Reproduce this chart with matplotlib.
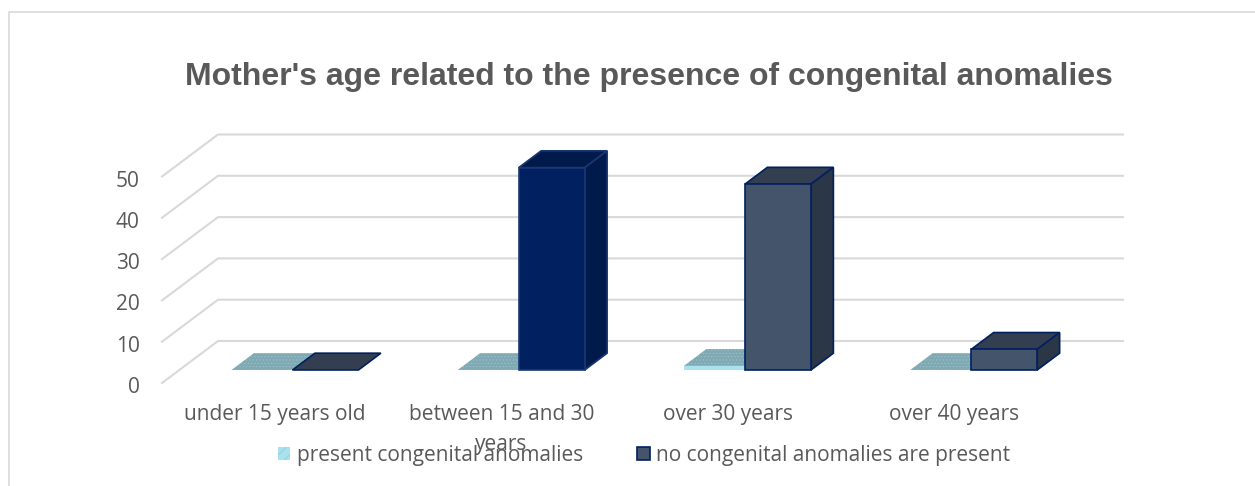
""" Mother's age chart, drawn as a fake 3D column chart """
import matplotlib
matplotlib.use('Agg')
import matplotlib.pyplot as plt
from matplotlib.patches import Polygon, Patch
from matplotlib.transforms import ScaledTranslation

categories = ['under 15 years old', 'between 15 and 30\nyears', 'over 30 years', 'over 40 years']
present = [0, 0, 1, 0]
not_present = [0, 49, 45, 5]
y_ticks = [0, 10, 20, 30, 40, 50]

W, H = 1255, 486
PX_CAT = 226.25   # pixels for one category
PX_VAL = 4.13     # pixels for one value unit
DX = 56 / PX_CAT  # full floor depth, in data units
DY = 42 / PX_VAL

GRID = '#D9D9D9'
TEXT = '#595959'
EDGE = '#002060'


def proj(x, v, d):
    """ Oblique projection of category x, value v, floor depth d (0 front, 1 back) """
    return x + d * DX, v + d * DY


def draw_bar(ax, x0, width, v, front, top, side, edge, lw=1.2, hatch=None, z=3):
    """ One column, going from depth .31 to depth .71 of the floor """
    d0, d1 = 0.31, 0.71
    x1 = x0 + width
    top_face = [proj(x0, v, d0), proj(x1, v, d0), proj(x1, v, d1), proj(x0, v, d1)]
    ax.add_patch(Polygon(top_face, fc=top, ec=edge, lw=lw, hatch=hatch, zorder=z))
    if v > 0:
        side_face = [proj(x1, 0, d0), proj(x1, 0, d1), proj(x1, v, d1), proj(x1, v, d0)]
        front_face = [proj(x0, 0, d0), proj(x1, 0, d0), proj(x1, v, d0), proj(x0, v, d0)]
        ax.add_patch(Polygon(side_face, fc=side, ec=edge, lw=lw, zorder=z))
        ax.add_patch(Polygon(front_face, fc=front, ec=edge, lw=lw, zorder=z))


plt.rcParams['hatch.linewidth'] = 0.4
fig = plt.figure(figsize=(W / 100, H / 100), dpi=100)

# axes box: front floor corner at pixel (162, 383), back wall ends at x=1123
ax = fig.add_axes([162 / W, (H - 383) / H, (1123 - 162) / W, (383 - 124) / H])
ax.set_xlim(0, (1123 - 162) / PX_CAT)
ax.set_ylim(0, (383 - 124) / PX_VAL)
for s in ax.spines.values():
    s.set_visible(False)
ax.patch.set_alpha(0)

# outer chart frame, only top and left show in the crop
fig.add_artist(plt.Line2D([9 / W, 9 / W, 1], [0, (H - 12) / H, (H - 12) / H], color=GRID, lw=1.2))

for g in y_ticks:
    xs, ys = zip(proj(0, g, 0), proj(0, g, 1), proj(4, g, 1))
    ax.plot(xs, ys, color=GRID, lw=1.5, zorder=1, clip_on=False)

bar_w = 66 / PX_CAT
pres_w = 61 / PX_CAT
for i in range(len(categories)):
    c = i + 0.5
    draw_bar(ax, c - pres_w, pres_w, present[i], '#A9E2EE', '#7FA9B3', '#6F97A0', '#9CC3CC',
             lw=0, hatch='.....', z=2 + i)
    if i == 1:
        draw_bar(ax, c, bar_w, not_present[i], '#002060', '#001A4C', '#001A4C', '#1B3873', z=2 + i)
    else:
        draw_bar(ax, c, bar_w, not_present[i], '#44546A', '#333F50', '#2B3747', EDGE, z=2 + i)

# axis labels
ax.set_yticks(y_ticks)
ax.set_xticks([i + 0.5 for i in range(len(categories))])
ax.set_xticklabels(categories, fontsize=15, color=TEXT, family='Open Sans', linespacing=1.55)
ax.tick_params(axis='x', length=0, pad=15)
ax.tick_params(axis='y', length=0, pad=16, labelsize=15, labelcolor=TEXT)
shift = ScaledTranslation(0, -2 / 100, fig.dpi_scale_trans)
for t in ax.get_yticklabels():
    t.set_family('Open Sans')
    t.set_transform(t.get_transform() + shift)

fig.text(649 / W, (H - 85) / H, "Mother's age related to the presence of congenital anomalies",
         ha='center', va='baseline', fontsize=23, fontweight='bold', color=TEXT, family='Liberation Sans')

handles = [Patch(fc='#A9E2EE', ec='#7FC4D4', lw=0, hatch='///'),
           Patch(fc='#44546A', ec=EDGE, lw=1.2)]
fig.legend(handles, ['present congenital anomalies', 'no congenital anomalies are present'],
           ncol=2, loc='center', bbox_to_anchor=(644 / W, (H - 455) / H), frameon=False,
           handlelength=0.6, handleheight=0.6, handletextpad=0.3, columnspacing=2.6,
           prop={'family': 'Open Sans', 'size': 15}, labelcolor=TEXT)

fig.savefig('out.png', dpi=100)
